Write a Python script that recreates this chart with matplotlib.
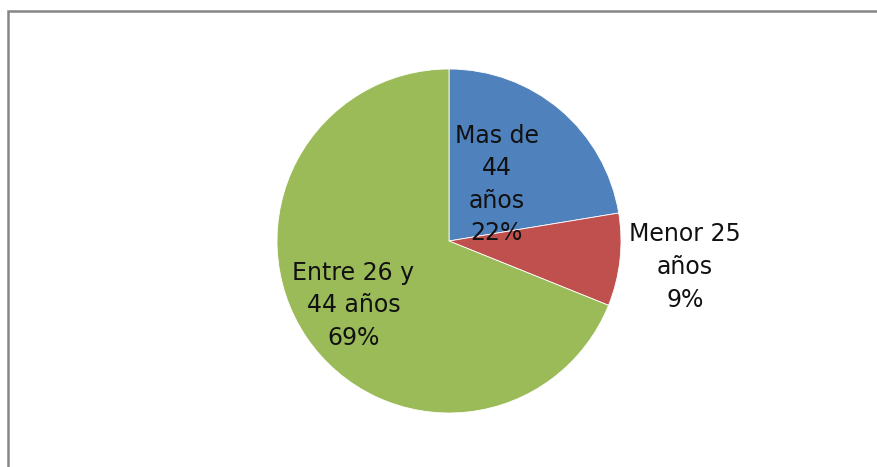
import numpy as np
import matplotlib
matplotlib.use('Agg')
import matplotlib.pyplot as plt
from matplotlib.patches import Rectangle

labels = ['Mas de\n44\naños', 'Menor 25\naños', 'Entre 26 y\n44 años']
values = [22.4, 8.7, 68.9]
pct_text = ['22%', '9%', '69%']
colors = ['#4F81BD', '#C0504D', '#9BBB59']
label_dist = [0.43, 1.38, 0.67]

W, H = 877, 467
cx, cy, rad = 449, 241, 172

fig = plt.figure(figsize=(W / 100, H / 100), dpi=100, facecolor='w')

# outer chart frame (only top/left edges visible in the crop)
fig.patches.append(Rectangle((7.5 / W, -0.1), 1.2, 1.1 - 10.5 / H, transform=fig.transFigure,
                             facecolor='none', edgecolor='#868686', linewidth=1.8))

ax = fig.add_axes([0, 0, 1, 1])
wedges, _ = ax.pie(values, colors=colors, startangle=90, counterclock=False, radius=1.0,
                   wedgeprops=dict(linewidth=0.6, edgecolor='white'))
ax.set_xlim(-cx / rad, (W - cx) / rad)
ax.set_ylim(-(H - cy) / rad, cy / rad)
ax.axis('off')

for w, lab, pct, d in zip(wedges, labels, pct_text, label_dist):
    ang = np.deg2rad((w.theta1 + w.theta2) / 2)
    ax.text(d * np.cos(ang), d * np.sin(ang), f'{lab}\n{pct}', ha='center', va='center',
            fontsize=17, linespacing=1.45, color='#111111', family='DejaVu Sans')

fig.savefig('out.png', dpi=100, facecolor='w')
